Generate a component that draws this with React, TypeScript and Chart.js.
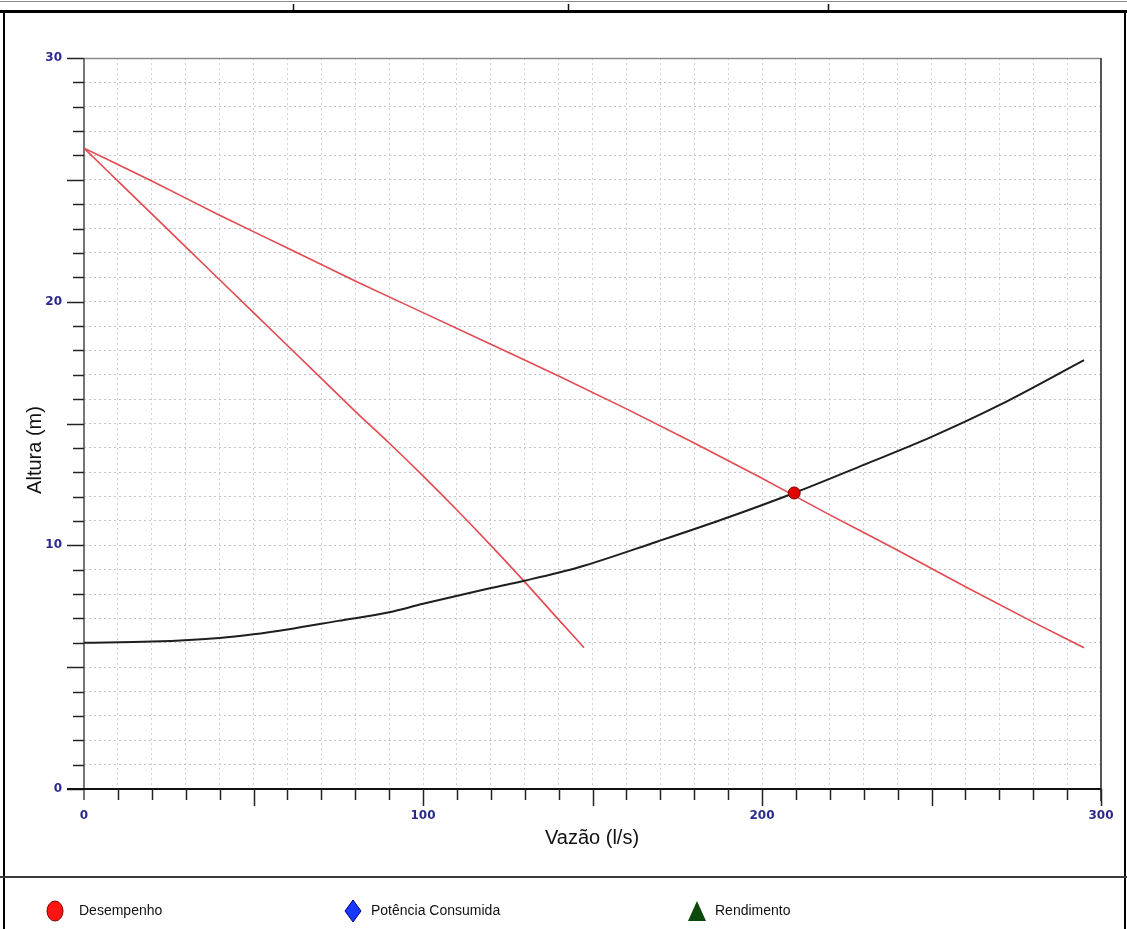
import React, { useEffect, useRef } from "react";
import { Chart, registerables } from "chart.js";

Chart.register(...registerables);

// Single pump curve (Desempenho)
const flowSingle = [0, 10, 20, 30, 40, 50, 60, 70, 80, 90, 100, 110, 120, 130, 140, 147.5];
const headSingle = [26.3, 24.95, 23.6, 22.25, 20.9, 19.55, 18.2, 16.85, 15.5, 14.2, 12.85, 11.45, 10.0, 8.5, 6.95, 5.8];

// Two pumps in parallel
const flowParallel = [0, 20, 40, 60, 80, 100, 120, 140, 160, 180, 200, 220, 240, 260, 280, 295];
const headParallel = [26.3, 24.95, 23.55, 22.2, 20.85, 19.55, 18.25, 16.95, 15.6, 14.2, 12.75, 11.25, 9.8, 8.3, 6.85, 5.8];

// System curve
const flowSystem = [0, 20, 40, 50, 60, 75, 90, 100, 120, 130, 146, 169, 188, 209.5, 230, 250, 270, 295];
const headSystem = [6.0, 6.05, 6.2, 6.35, 6.55, 6.9, 7.25, 7.6, 8.25, 8.55, 9.1, 10.15, 11.05, 12.15, 13.3, 14.45, 15.75, 17.6];

// Operating point
const operatingFlow = [209.5];
const operatingHead = [12.15];

const xTickLabels = [0, 100, 200, 300];
const yTickLabels = [0, 10, 20, 30];
const topRulerTicks = [293, 568, 828];

const xTitle = "Vazão (l/s)";
const yTitle = "Altura (m)";
const legendLabels = ["Desempenho", "Potência Consumida", "Rendimento"];

const W = 1127;
const H = 929;

const toPoints = (xs: number[], ys: number[]) => xs.map((x, i) => ({ x, y: ys[i] }));

const framePlugin = {
  id: "framePlugin",
  beforeDatasetsDraw(chart: any) {
    const ctx = chart.ctx as CanvasRenderingContext2D;
    const xs = chart.scales.x;
    const ys = chart.scales.y;
    const area = chart.chartArea;
    ctx.save();
    // plot frame top & right
    ctx.strokeStyle = "#8a8a8a";
    ctx.lineWidth = 1.5;
    ctx.beginPath();
    ctx.moveTo(area.left, area.top + 0.5);
    ctx.lineTo(area.right, area.top + 0.5);
    ctx.stroke();
    ctx.strokeStyle = "#555";
    ctx.lineWidth = 2;
    ctx.beginPath();
    ctx.moveTo(area.right, area.top);
    ctx.lineTo(area.right, area.bottom + 12);
    ctx.stroke();
    // y axis line
    ctx.strokeStyle = "#777";
    ctx.lineWidth = 2;
    ctx.beginPath();
    ctx.moveTo(area.left, area.top);
    ctx.lineTo(area.left, area.bottom + 11);
    ctx.stroke();
    // y ticks
    ctx.strokeStyle = "#222";
    ctx.lineWidth = 1.5;
    for (let v = 0; v <= 30; v++) {
      const py = Math.round(ys.getPixelForValue(v)) + 0.5;
      const len = v % 5 === 0 ? 17 : 11;
      ctx.beginPath();
      ctx.moveTo(area.left - len, py);
      ctx.lineTo(area.left, py);
      ctx.stroke();
    }
    // x axis line
    ctx.strokeStyle = "#111";
    ctx.lineWidth = 2;
    ctx.beginPath();
    ctx.moveTo(area.left - 17, area.bottom);
    ctx.lineTo(area.right, area.bottom);
    ctx.stroke();
    // x ticks
    ctx.lineWidth = 1.5;
    ctx.strokeStyle = "#222";
    for (let v = 10; v <= 300; v += 10) {
      const px = Math.round(xs.getPixelForValue(v)) + 0.5;
      const len = v % 50 === 0 ? 17 : 11;
      ctx.beginPath();
      ctx.moveTo(px, area.bottom);
      ctx.lineTo(px, area.bottom + len);
      ctx.stroke();
    }
    ctx.restore();
  },
  afterDraw(chart: any) {
    const ctx = chart.ctx as CanvasRenderingContext2D;
    ctx.save();
    // outer frame
    ctx.strokeStyle = "#8a8a8a";
    ctx.lineWidth = 1;
    ctx.beginPath();
    ctx.moveTo(0, 1.5);
    ctx.lineTo(W, 1.5);
    ctx.stroke();
    ctx.strokeStyle = "#111";
    ctx.lineWidth = 1.5;
    topRulerTicks.forEach((tx) => {
      ctx.beginPath();
      ctx.moveTo(tx + 0.5, 4);
      ctx.lineTo(tx + 0.5, 10);
      ctx.stroke();
    });
    ctx.fillStyle = "#000";
    ctx.fillRect(0, 10, W, 3);
    ctx.fillRect(3, 10, 2, H - 10);
    ctx.fillRect(W - 3, 10, 2, H - 10);
    ctx.fillStyle = "#3a3a3a";
    ctx.fillRect(0, 876, W, 2);

    // titles
    ctx.fillStyle = "#111";
    ctx.font = "20px 'Liberation Sans', Arial, sans-serif";
    ctx.textAlign = "center";
    ctx.textBaseline = "middle";
    ctx.fillText(xTitle, 592, 838);
    ctx.save();
    ctx.translate(35, 450);
    ctx.rotate(-Math.PI / 2);
    ctx.fillText(yTitle, 0, 0);
    ctx.restore();

    // legend
    const ly = 911;
    ctx.font = "14px 'Liberation Sans', Arial, sans-serif";
    ctx.textAlign = "left";
    // circle
    ctx.beginPath();
    ctx.ellipse(55, ly, 8, 10, 0, 0, Math.PI * 2);
    ctx.fillStyle = "#ff1414";
    ctx.fill();
    ctx.strokeStyle = "#7a0000";
    ctx.lineWidth = 1;
    ctx.stroke();
    ctx.fillStyle = "#111";
    ctx.fillText(legendLabels[0], 79, ly);
    // diamond
    ctx.beginPath();
    ctx.moveTo(353, ly - 11);
    ctx.lineTo(361, ly);
    ctx.lineTo(353, ly + 11);
    ctx.lineTo(345, ly);
    ctx.closePath();
    ctx.fillStyle = "#1638ff";
    ctx.fill();
    ctx.strokeStyle = "#00007a";
    ctx.stroke();
    ctx.fillStyle = "#111";
    ctx.fillText(legendLabels[1], 371, ly);
    // triangle
    ctx.beginPath();
    ctx.moveTo(697, ly - 10);
    ctx.lineTo(706, ly + 10);
    ctx.lineTo(688, ly + 10);
    ctx.closePath();
    ctx.fillStyle = "#0b4a0b";
    ctx.fill();
    ctx.fillStyle = "#111";
    ctx.fillText(legendLabels[2], 715, ly);
    ctx.restore();
  },
};

export default function App() {
  const ref = useRef<HTMLCanvasElement | null>(null);
  useEffect(() => {
    if (!ref.current) return;
    const redLine = "rgb(226, 74, 80)";
    const chart = new Chart(ref.current, {
      type: "line",
      data: {
        datasets: [
          {
            label: "Ponto de operação",
            data: toPoints(operatingFlow, operatingHead),
            showLine: false,
            pointRadius: 6,
            pointBackgroundColor: "#e00000",
            pointBorderColor: "#7a0000",
            pointBorderWidth: 1,
          },
          {
            label: "Sistema",
            data: toPoints(flowSystem, headSystem),
            borderColor: "#1e1e1e",
            borderWidth: 2,
            pointRadius: 0,
            cubicInterpolationMode: "monotone",
          },
          {
            label: "Desempenho (2 bombas)",
            data: toPoints(flowParallel, headParallel),
            borderColor: redLine,
            borderWidth: 1.6,
            pointRadius: 0,
            cubicInterpolationMode: "monotone",
          },
          {
            label: "Desempenho",
            data: toPoints(flowSingle, headSingle),
            borderColor: redLine,
            borderWidth: 1.6,
            pointRadius: 0,
            cubicInterpolationMode: "monotone",
          },
        ],
      },
      options: {
        responsive: false,
        animation: false,
        events: [],
        layout: { padding: { top: 58, right: 26, left: 0, bottom: 0 } },
        plugins: { legend: { display: false }, tooltip: { enabled: false } },
        scales: {
          x: {
            type: "linear",
            min: 0,
            max: 300,
            afterFit: (s: any) => {
              s.height = 140;
              s.paddingLeft = 0;
              s.paddingRight = 0;
            },
            ticks: {
              stepSize: 10,
              autoSkip: false,
              maxRotation: 0,
              padding: 20,
              color: "#2a2a8c",
              font: { family: "'DejaVu Sans', sans-serif", size: 12, weight: "bold" },
              callback: (v: any) => (xTickLabels.includes(Number(v)) ? String(v) : ""),
            },
            grid: { color: "#d2d2d2", lineWidth: 1, drawTicks: false },
            border: { display: false, dash: [2, 3] },
          },
          y: {
            type: "linear",
            min: 0,
            max: 30,
            afterFit: (s: any) => {
              s.width = 84;
              s.paddingTop = 0;
              s.paddingBottom = 0;
            },
            ticks: {
              stepSize: 1,
              autoSkip: false,
              padding: 22,
              color: "#2a2a8c",
              font: { family: "'DejaVu Sans', sans-serif", size: 12, weight: "bold" },
              callback: (v: any) => (yTickLabels.includes(Number(v)) ? String(v) : ""),
            },
            grid: { color: "#c4c4c4", lineWidth: 1, drawTicks: false },
            border: { display: false, dash: [2, 3] },
          },
        },
      },
      plugins: [framePlugin],
    } as any);
    return () => chart.destroy();
  }, []);
  return (
    <canvas
      ref={ref}
      width={W}
      height={H}
      style={{ position: "fixed", left: 0, top: 0, width: W, height: H, display: "block", background: "#fff" }}
    />
  );
}
